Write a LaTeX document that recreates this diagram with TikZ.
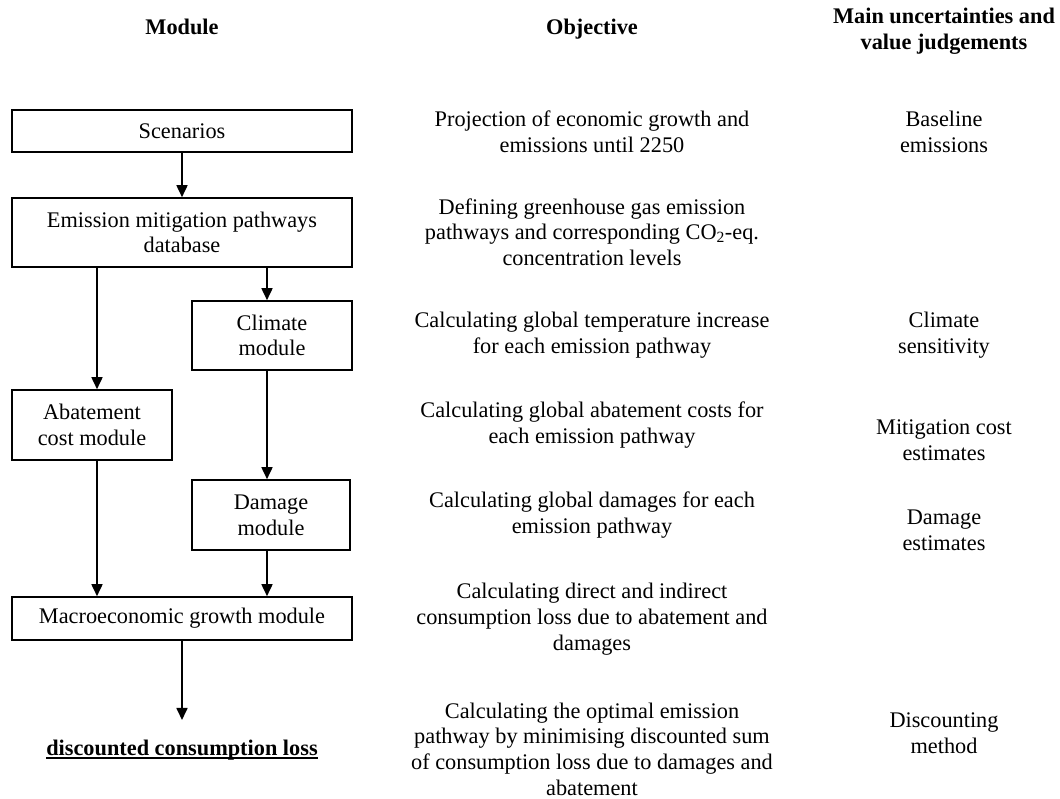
\documentclass[tikz,border=0pt]{standalone}
\usepackage{fontspec}
\setmainfont{Liberation Serif}
\usepackage{tikz}
\usetikzlibrary{arrows.meta}
\newcommand{\thickul}[1]{\setbox0\hbox{#1}\rlap{\rule[-4pt]{\wd0}{2pt}}\box0}
\tikzset{
  txt/.style={align=center, font=\fontsize{22.3}{25.7}\selectfont},
  head/.style={txt, font=\fontsize{22.3}{25.7}\selectfont\bfseries},
  modbox/.style={txt, draw, line width=1.6pt, inner sep=0pt},
  flow/.style={line width=1.7pt, -{Triangle[length=12pt,width=11pt]}}
}
\begin{document}
\begin{tikzpicture}[x=1pt,y=-1pt]
    \useasboundingbox (0,0) rectangle (1060,799);
    % column heads
    \node[head, anchor=base] (hmod) at (182,35) {Module};
    \node[head, anchor=base] (hobj) at (592,35) {Objective};
    \node[head] (hunc) at (944,31) {Main uncertainties and\\value judgements};
    % modules
    \node[modbox, minimum width=340pt, minimum height=42pt] (scen) at (182,131) {Scenarios};
    \node[modbox, minimum width=340pt, minimum height=69pt] (emis) at (182,232.5) {Emission mitigation pathways\\database};
    \node[modbox, minimum width=160pt, minimum height=69pt] (clim) at (272,335.5) {Climate\\module};
    \node[modbox, minimum width=160pt, minimum height=70pt] (abat) at (92,425) {Abatement\\cost module};
    \node[modbox, minimum width=158pt, minimum height=70pt] (dam) at (271,515) {Damage\\module};
    \node[modbox, minimum width=340pt, minimum height=43pt] (macro) at (182,618.5) {Macroeconomic growth module};
    \node[head, anchor=base] (loss) at (182,755) {\thickul{discounted consumption loss}};
    % connectors
    \draw[flow] (scen) -- (emis);
    \draw[flow] ([xshift=85pt]emis.south) -- ([xshift=85pt]emis.south |- clim.north);
    \draw[flow] ([xshift=-85pt]emis.south) -- ([xshift=-85pt]emis.south |- abat.north);
    \draw[flow] ([xshift=-5pt]clim.south) -- ([xshift=-4pt]dam.north);
    \draw[flow] ([xshift=5pt]abat.south) -- ([xshift=5pt]abat.south |- macro.north);
    \draw[flow] ([xshift=-4pt]dam.south) -- ([xshift=-4pt]dam.south |- macro.north);
    \draw[flow] (macro.south) -- ([yshift=16pt]loss.north);
    % objectives
    \node[txt] (o1) at (592,132) {Projection of economic growth and\\emissions until 2250};
    \node[txt] (o2) at (592,232) {Defining greenhouse gas emission\\pathways and corresponding CO\textsubscript{2}-eq.\\concentration levels};
    \node[txt] (o3) at (592,335) {Calculating global temperature increase\\for each emission pathway};
    \node[txt] (o4) at (592,425) {Calculating global abatement costs for\\each emission pathway};
    \node[txt] (o5) at (592,515) {Calculating global damages for each\\emission pathway};
    \node[txt] (o6) at (592,619) {Calculating direct and indirect\\consumption loss due to abatement and\\damages};
    \node[txt] (o7) at (592,749) {Calculating the optimal emission\\pathway by minimising discounted sum\\of consumption loss due to damages and\\abatement};
    % uncertainties
    \node[txt] (u1) at (944,132) {Baseline\\emissions};
    \node[txt] (u2) at (944,335) {Climate\\sensitivity};
    \node[txt] (u3) at (944,440) {Mitigation cost\\estimates};
    \node[txt] (u4) at (944,530) {Damage\\estimates};
    \node[txt] (u5) at (944,733) {Discounting\\method};
\end{tikzpicture}
\end{document}
